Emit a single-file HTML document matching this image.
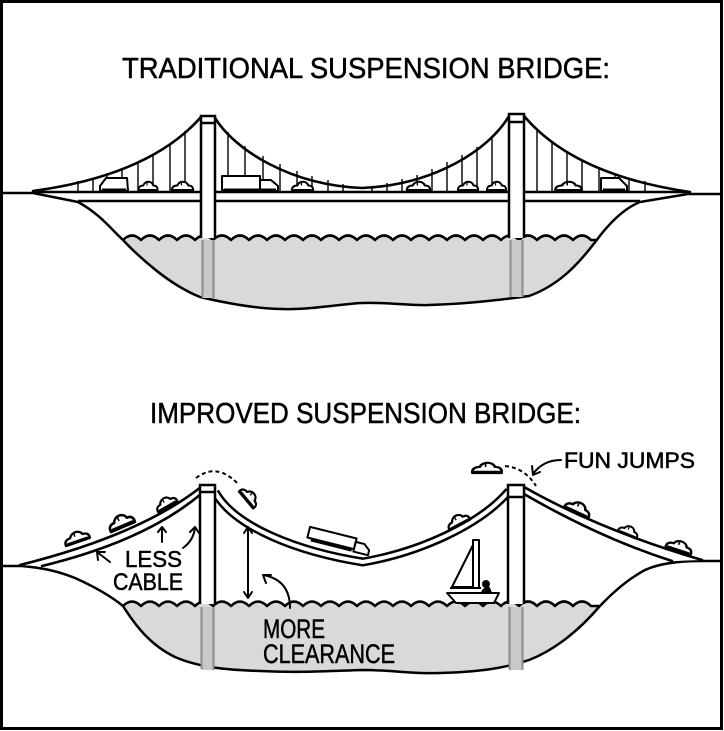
<!DOCTYPE html>
<html><head><meta charset="utf-8"><style>
html,body{margin:0;padding:0;background:#fff;}
svg{display:block;}
text{font-family:"Liberation Sans",sans-serif;fill:#000;stroke:#000;stroke-width:0.5;}
</style></head><body>
<svg width="724" height="731" viewBox="0 0 724 731" xmlns="http://www.w3.org/2000/svg">
<defs>
<g id="car">
<path d="M-10,0 C-10.5,-4 -8,-5.5 -5,-5.5 C-3,-10.5 4,-10.5 5.5,-5.5 C9,-5.5 10.5,-3.5 10,0 Z" fill="#fff" stroke="#000" stroke-width="2" stroke-linejoin="round"/>
<line x1="-1" y1="-5.5" x2="-1" y2="-9" stroke="#000" stroke-width="1.2"/>
<line x1="-8" y1="-0.8" x2="8" y2="-0.8" stroke="#000" stroke-width="2.5" stroke-linecap="round"/>
</g>
</defs>
<rect x="0" y="0" width="724" height="731" fill="#fff"/>
<rect x="1.5" y="1.5" width="720" height="727" fill="none" stroke="#000" stroke-width="3"/>

<!-- ================= TOP PANEL ================= -->
<text x="122" y="78" font-size="29" textLength="488" lengthAdjust="spacingAndGlyphs">TRADITIONAL SUSPENSION BRIDGE:</text>

<!-- water -->
<path d="M123,240 q9,-9 18,0 q9,-9 18,0 q9,-9 18,0 q9,-9 18,0 q9,-9 18,0 q9,-9 18,0 q9,-9 18,0 q9,-9 18,0 q9,-9 18,0 q9,-9 18,0 q9,-9 18,0 q9,-9 18,0 q9,-9 18,0 q9,-9 18,0 q9,-9 18,0 q9,-9 18,0 q9,-9 18,0 q9,-9 18,0 q9,-9 18,0 q9,-9 18,0 q9,-9 18,0 q9,-9 18,0 q9,-9 18,0 q9,-9 18,0 q9,-9 18,0 q9,-9 18,0 L596,240 C580,262 560,285 529,296 C500,300 460,304 429,305 C400,305 380,302 362,303 C340,305 310,310 283,309 C255,308 230,302 200,297 C180,290 160,278 150,267 C138,256 130,248 123,240 Z" fill="#d9d9d9" stroke="none"/>
<path d="M123,240 q9,-9 18,0 q9,-9 18,0 q9,-9 18,0 q9,-9 18,0 q9,-9 18,0 q9,-9 18,0 q9,-9 18,0 q9,-9 18,0 q9,-9 18,0 q9,-9 18,0 q9,-9 18,0 q9,-9 18,0 q9,-9 18,0 q9,-9 18,0 q9,-9 18,0 q9,-9 18,0 q9,-9 18,0 q9,-9 18,0 q9,-9 18,0 q9,-9 18,0 q9,-9 18,0 q9,-9 18,0 q9,-9 18,0 q9,-9 18,0 q9,-9 18,0 q9,-9 18,0 L596,240" fill="none" stroke="#000" stroke-width="2.5" stroke-linejoin="round"/>
<!-- bank -->
<path d="M0,193 L33,193 L78,202 C100,214 112,230 123,240 C140,258 170,285 200,297 C230,304 260,309 283,309 C310,310 340,304 362,303 C390,302 410,306 429,305 C460,304 500,300 529,296 C560,285 580,262 596,241 C610,222 625,208 640,202 L688,194 L722,194" fill="none" stroke="#000" stroke-width="2.5" stroke-linejoin="round"/>

<!-- suspenders -->
<g stroke="#000" stroke-width="1.4">
<line x1="78" y1="181" x2="78" y2="192"/><line x1="93" y1="178" x2="93" y2="192"/><line x1="107" y1="173" x2="107" y2="192"/><line x1="122" y1="168" x2="122" y2="192"/><line x1="138" y1="162" x2="138" y2="192"/><line x1="153" y1="155" x2="153" y2="192"/><line x1="170" y1="144" x2="170" y2="192"/><line x1="185" y1="131" x2="185" y2="192"/>
<line x1="228" y1="132" x2="228" y2="192"/><line x1="245" y1="146" x2="245" y2="192"/><line x1="263" y1="156" x2="263" y2="192"/><line x1="280" y1="164" x2="280" y2="192"/><line x1="297" y1="171" x2="297" y2="192"/><line x1="312" y1="176" x2="312" y2="192"/><line x1="328" y1="180" x2="328" y2="192"/><line x1="343" y1="184" x2="343" y2="192"/>
<line x1="372" y1="186" x2="372" y2="192"/><line x1="387" y1="183" x2="387" y2="192"/><line x1="402" y1="179" x2="402" y2="192"/><line x1="417" y1="175" x2="417" y2="192"/><line x1="432" y1="169" x2="432" y2="192"/><line x1="447" y1="162" x2="447" y2="192"/><line x1="462" y1="155" x2="462" y2="192"/><line x1="477" y1="147" x2="477" y2="192"/><line x1="492" y1="138" x2="492" y2="192"/>
<line x1="537" y1="130" x2="537" y2="192"/><line x1="552" y1="143" x2="552" y2="192"/><line x1="567" y1="153" x2="567" y2="192"/><line x1="582" y1="161" x2="582" y2="192"/><line x1="599" y1="167" x2="599" y2="192"/><line x1="615" y1="173" x2="615" y2="192"/><line x1="629" y1="178" x2="629" y2="192"/><line x1="645" y1="181" x2="645" y2="192"/>
</g>
<!-- cables -->
<g fill="none" stroke="#000" stroke-width="2.6" stroke-linecap="round">
<path d="M33,191 Q150,175 201,117"/>
<path d="M215,118 C235,150 290,185 362,188 C434,185 489,150 509,116"/>
<path d="M524,116 Q574,175 690,192"/>
</g>
<!-- deck -->
<path d="M33,192 L690,192" stroke="#000" stroke-width="2.5" fill="none"/>
<path d="M78,201 L640,201" stroke="#000" stroke-width="2.5" fill="none"/>

<!-- cars top -->
<g fill="#fff" stroke="#000" stroke-width="2" stroke-linejoin="round">
<path d="M100,191 L100,186 L106,178 L127,178 L128,191 Z"/>
<rect x="222" y="176" width="38" height="14"/>
<path d="M260,191 L260,180 L271,180 L278,186 L278,191 Z"/>
<path d="M601,191 L601,178 L619,178 L627,186 L627,191 Z"/>
</g>
<use href="#car" transform="translate(148,191) scale(0.95,1)"/>
<use href="#car" transform="translate(182.5,191) scale(1.05,1)"/>
<use href="#car" transform="translate(302.5,191) scale(1.05,1)"/>
<use href="#car" transform="translate(418.5,191) scale(1.15,1)"/>
<use href="#car" transform="translate(468,191)"/>
<use href="#car" transform="translate(496.5,191) scale(0.95,1)"/>
<use href="#car" transform="translate(568.5,191) scale(1.3,1)"/>
<g stroke="#000" stroke-width="3">
<line x1="102" y1="190" x2="126" y2="190"/><line x1="224" y1="190" x2="276" y2="190"/><line x1="603" y1="190" x2="625" y2="190"/>
</g>

<!-- towers top -->
<rect x="202" y="240" width="12" height="58" fill="#c9c9c9"/>
<line x1="202.5" y1="240" x2="202.5" y2="298" stroke="#8c8c8c" stroke-width="2"/>
<line x1="213.5" y1="240" x2="213.5" y2="299" stroke="#8c8c8c" stroke-width="2"/>
<rect x="201" y="116" width="14" height="122" fill="#fff"/>
<path d="M201,238 L201,116 L215,116 L215,238 M201,123 L215,123" fill="none" stroke="#000" stroke-width="2.5"/>
<rect x="510" y="240" width="13" height="57" fill="#c9c9c9"/>
<line x1="510.5" y1="240" x2="510.5" y2="297" stroke="#8c8c8c" stroke-width="2"/>
<line x1="522.5" y1="240" x2="522.5" y2="297" stroke="#8c8c8c" stroke-width="2"/>
<rect x="509" y="114" width="15" height="124" fill="#fff"/>
<path d="M509,238 L509,114 L524,114 L524,238 M509,122 L524,122" fill="none" stroke="#000" stroke-width="2.5"/>

<!-- ================= BOTTOM PANEL ================= -->
<text x="150" y="423" font-size="29" textLength="431" lengthAdjust="spacingAndGlyphs">IMPROVED SUSPENSION BRIDGE:</text>

<!-- water -->
<path d="M123,606 q9,-9 18,0 q9,-9 18,0 q9,-9 18,0 q9,-9 18,0 q9,-9 18,0 q9,-9 18,0 q9,-9 18,0 q9,-9 18,0 q9,-9 18,0 q9,-9 18,0 q9,-9 18,0 q9,-9 18,0 q9,-9 18,0 q9,-9 18,0 q9,-9 18,0 q9,-9 18,0 q9,-9 18,0 q9,-9 18,0 q9,-9 18,0 q9,-9 18,0 q9,-9 18,0 q9,-9 18,0 q9,-9 18,0 q9,-9 18,0 q9,-9 18,0 q9,-9 18,0 L599,606 C575,635 550,652 529,660 C505,668 480,672 440,673 C410,674 395,670 362,670 C330,671 300,673 260,671 C230,670 200,668 175,657 C150,645 135,625 123,606 Z" fill="#d9d9d9" stroke="none"/>
<path d="M123,606 q9,-9 18,0 q9,-9 18,0 q9,-9 18,0 q9,-9 18,0 q9,-9 18,0 q9,-9 18,0 q9,-9 18,0 q9,-9 18,0 q9,-9 18,0 q9,-9 18,0 q9,-9 18,0 q9,-9 18,0 q9,-9 18,0 q9,-9 18,0 q9,-9 18,0 q9,-9 18,0 q9,-9 18,0 q9,-9 18,0 q9,-9 18,0 q9,-9 18,0 q9,-9 18,0 q9,-9 18,0 q9,-9 18,0 q9,-9 18,0 q9,-9 18,0 q9,-9 18,0 L599,606" fill="none" stroke="#000" stroke-width="2.5" stroke-linejoin="round"/>
<!-- bank -->
<path d="M0,566 L22,566 C45,568 60,572 75,578 C95,587 112,597 123,606 C135,625 150,645 175,657 C200,668 230,670 260,671 C300,673 330,671 362,670 C395,670 410,674 440,673 C480,672 505,668 529,660 C550,652 575,635 599,607 C615,590 630,578 645,570 C660,563 680,561 702,561 L722,561" fill="none" stroke="#000" stroke-width="2.5" stroke-linejoin="round"/>

<!-- roads -->
<!-- left span: two converging lines -->
<path d="M20,565 Q140,535 201,487 L201,494 Q145,541 42,566 Z" fill="#fff" stroke="none"/>
<path d="M20,565 Q140,535 201,487" fill="none" stroke="#000" stroke-width="2.6" stroke-linecap="round"/>
<path d="M42,566 Q145,541 201,494" fill="none" stroke="#000" stroke-width="2.6" stroke-linecap="round"/>
<!-- middle span -->
<g fill="none" stroke-linejoin="miter">
<path d="M215,492 C235,528 300,552 363,562 C420,552 480,525 509,491" stroke="#000" stroke-width="9"/>
<path d="M215,492 C235,528 300,552 363,562 C420,552 480,525 509,491" stroke="#fff" stroke-width="4"/>
</g>
<!-- right span -->
<path d="M524,487 Q600,530 702,560 L672,561 Q600,538 524,494 Z" fill="#fff" stroke="none"/>
<path d="M524,487 Q600,530 702,560" fill="none" stroke="#000" stroke-width="2.6" stroke-linecap="round"/>
<path d="M524,494 Q600,538 672,561" fill="none" stroke="#000" stroke-width="2.6" stroke-linecap="round"/>

<!-- cars bottom -->
<use href="#car" transform="translate(78,542) rotate(-19) scale(1.25,1.1)"/>
<use href="#car" transform="translate(123,527) rotate(-23) scale(1.3,1.3)"/>
<use href="#car" transform="translate(168,507) rotate(-30) scale(1.1,1.05)"/>
<use href="#car" transform="translate(246,500) rotate(50) scale(1.1,1.1)"/>
<use href="#car" transform="translate(460,525) rotate(-28) scale(1.15,1.1)"/>
<use href="#car" transform="translate(576,513) rotate(25) scale(1.3,1.2)"/>
<use href="#car" transform="translate(627,535) rotate(22) scale(1.0,1.0)"/>
<use href="#car" transform="translate(678,551) rotate(18) scale(1.3,1.1)"/>
<use href="#car" transform="translate(487,473) scale(1.45,1.1)"/>
<!-- truck -->
<g transform="translate(332,538) rotate(14)" fill="#fff" stroke="#000" stroke-width="2" stroke-linejoin="round">
<rect x="-24" y="-5.5" width="48" height="11"/>
<path d="M24,8 L24,-2 L33,-2 L39,3 L39,8 Z"/>
<line x1="-20" y1="7" x2="22" y2="7" stroke-width="3"/>
</g>
<!-- jump dashes -->
<path d="M196,478 Q217,462 238,484" fill="none" stroke="#000" stroke-width="2" stroke-dasharray="4,3"/>
<path d="M505,466 Q525,468 536,486" fill="none" stroke="#000" stroke-width="2" stroke-dasharray="4,3"/>

<!-- towers bottom -->
<rect x="201" y="607" width="13" height="63" fill="#c9c9c9"/>
<line x1="201.5" y1="607" x2="201.5" y2="669" stroke="#8c8c8c" stroke-width="2"/>
<line x1="213.5" y1="607" x2="213.5" y2="670" stroke="#8c8c8c" stroke-width="2"/>
<rect x="200" y="485" width="15" height="119" fill="#fff"/>
<path d="M200,604 L200,485 L215,485 L215,604 M200,492 L215,492" fill="none" stroke="#000" stroke-width="2.5"/>
<rect x="509" y="607" width="14" height="63" fill="#c9c9c9"/>
<line x1="509.5" y1="607" x2="509.5" y2="670" stroke="#8c8c8c" stroke-width="2"/>
<line x1="522.5" y1="607" x2="522.5" y2="670" stroke="#8c8c8c" stroke-width="2"/>
<rect x="508" y="485" width="16" height="119" fill="#fff"/>
<path d="M508,604 L508,485 L524,485 L524,604 M508,497 L524,497" fill="none" stroke="#000" stroke-width="2.5"/>

<!-- sailboat -->
<g fill="#fff" stroke="#000" stroke-width="2" stroke-linejoin="round">
<path d="M474,543 L452,587 L474,587 Z"/>
<rect x="473" y="540" width="6" height="48"/>
<line x1="450" y1="588" x2="481" y2="588"/>
<path d="M447,593 L499,593 L494,603 L456,603 Z"/>
<path d="M482,593 Q483,588 489,588 L491,593" fill="#000"/>
<circle cx="486" cy="584" r="3" fill="#000"/>
</g>

<!-- labels and arrows -->
<text x="125" y="567" font-size="23" textLength="57" lengthAdjust="spacingAndGlyphs">LESS</text>
<text x="113" y="590" font-size="24" textLength="70" lengthAdjust="spacingAndGlyphs">CABLE</text>
<text x="263" y="638" font-size="27" textLength="62" lengthAdjust="spacingAndGlyphs">MORE</text>
<text x="263" y="663" font-size="27" textLength="132" lengthAdjust="spacingAndGlyphs">CLEARANCE</text>
<text x="564" y="468" font-size="22" textLength="131" lengthAdjust="spacingAndGlyphs">FUN JUMPS</text>

<g fill="none" stroke="#000" stroke-width="2" stroke-linecap="round" stroke-linejoin="round">
<path d="M110,562 L97,552 M97,552 L105,552 M97,552 L98,560"/>
<path d="M162,542 L162,527 M158,532 L162,527 L166,532"/>
<path d="M183,548 Q194,540 195,527 M190,532 L195,527 L199,533"/>
<path d="M248,527 L248,598 M244,533 L248,527 L252,533 M244,592 L248,598 L252,592"/>
<path d="M290,608 C290,588 280,578 263,575 M271,575 L263,575 L266,583"/>
<path d="M561,460 Q543,460 533,474 M532,466 L533,475 L540,472"/>
</g>
</svg>
</body></html>
